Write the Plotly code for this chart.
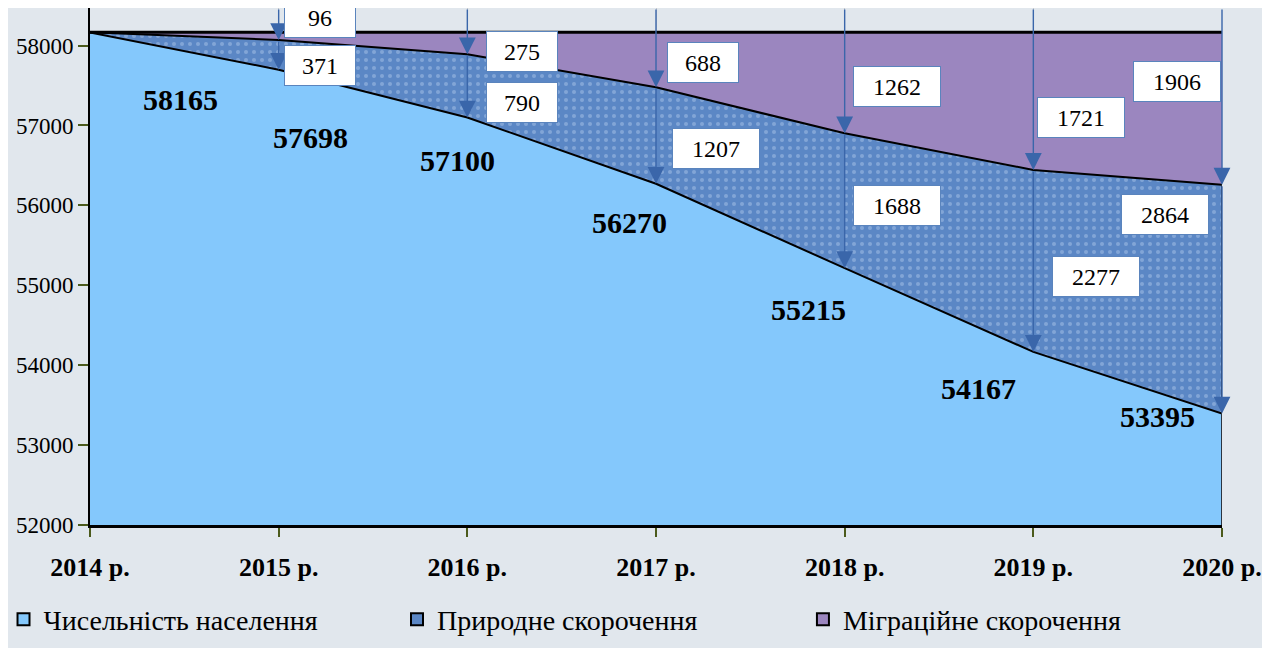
import plotly.graph_objects as go

years = [2014, 2015, 2016, 2017, 2018, 2019, 2020]
year_labels = ["2014 р.", "2015 р.", "2016 р.", "2017 р.", "2018 р.", "2019 р.", "2020 р."]
population = [58165, 57698, 57100, 56270, 55215, 54167, 53395]
natural_decrease = [0, 371, 790, 1207, 1688, 2277, 2864]
migration_decrease = [0, 96, 275, 688, 1262, 1721, 1906]

series_names = ["Чисельність населення", "Природне скорочення", "Міграційне скорочення"]

# where the value labels sit (x in years, y in axis units)
pop_label_pos = [(2014.48, 57330), (2015.17, 56850), (2015.95, 56560), (2016.86, 55790),
                 (2017.81, 54700), (2018.71, 53710), (2019.66, 53360)]
nat_label_pos = [None, (2015.22, 57750), (2016.29, 57290), (2017.32, 56710),
                 (2018.28, 56000), (2019.33, 55110), (2019.70, 55880)]
mig_label_pos = [None, (2015.22, 58350), (2016.29, 57925), (2017.25, 57790),
                 (2018.28, 57490), (2019.25, 57100), (2019.76, 57550)]
legend_x = [-0.0764, 0.2712, 0.6298]

Y_MIN, Y_MAX = 52000, 58470
FONT = "Liberation Serif, Tinos, Times New Roman, serif"
C_POP = "#84c8fc"
C_NAT = "#5b87c5"
C_MIG = "#9b86bf"
C_ARROW = "#3a66aa"
C_TICK = "#4b5a1c"

fig = go.Figure()

fig.add_trace(go.Scatter(
    x=years, y=population, stackgroup="s", mode="lines",
    line=dict(color="black", width=2), fillcolor=C_POP,
    name=series_names[0], showlegend=False,
))
fig.add_trace(go.Scatter(
    x=years, y=natural_decrease, stackgroup="s", mode="lines",
    line=dict(color="black", width=2), fillcolor=C_NAT,
    fillpattern=dict(shape=".", fgcolor="#a9c3e8", bgcolor=C_NAT, size=8, solidity=0.2),
    name=series_names[1], showlegend=False,
))
fig.add_trace(go.Scatter(
    x=years, y=migration_decrease, stackgroup="s", mode="lines",
    line=dict(color="black", width=3), fillcolor=C_MIG,
    name=series_names[2], showlegend=False,
))

# right edge of the filled block
mid = [p + n for p, n in zip(population, natural_decrease)]
fig.add_trace(go.Scatter(
    x=[years[-1], years[-1]], y=[Y_MIN, mid[-1]], mode="lines",
    line=dict(color="#2b3440", width=2), showlegend=False, hoverinfo="skip",
))

# legend entries, one legend each so they sit where the original has them
legend_ids = ["legend", "legend2", "legend3"]
for name, col, lid in zip(series_names, [C_POP, C_NAT, C_MIG], legend_ids):
    fig.add_trace(go.Scatter(
        x=[None], y=[None], mode="markers", name=name, legend=lid,
        marker=dict(symbol="square", size=20, color=col, line=dict(color="black", width=1)),
    ))

# arrows
for i in range(1, len(years)):
    fig.add_annotation(
        x=years[i], y=mid[i], ax=years[i], ay=Y_MAX, axref="x", ayref="y",
        showarrow=True, arrowhead=2, arrowsize=2.4, arrowwidth=1.4, arrowcolor=C_ARROW, text="",
    )
    fig.add_annotation(
        x=years[i], y=population[i], ax=years[i], ay=mid[i], axref="x", ayref="y",
        showarrow=True, arrowhead=2, arrowsize=2.4, arrowwidth=1.4, arrowcolor=C_ARROW, text="",
    )

# boxed labels
def box(pos, val):
    w = 68 if len(str(val)) < 4 else 84
    fig.add_annotation(
        x=pos[0], y=pos[1], text=str(val), showarrow=False,
        font=dict(family=FONT, size=24, color="black"),
        bgcolor="white", bordercolor="#5a84bd", borderwidth=1,
        width=w, height=37, align="center", valign="middle",
    )

for i in range(1, len(years)):
    box(mig_label_pos[i], migration_decrease[i])
    box(nat_label_pos[i], natural_decrease[i])

for pos, val in zip(pop_label_pos, population):
    fig.add_annotation(
        x=pos[0], y=pos[1], text=f"<b>{val}</b>", showarrow=False,
        font=dict(family=FONT, size=30, color="black"),
    )

legend_style = dict(
    orientation="h", xanchor="left", y=-0.183, yanchor="middle",
    font=dict(family=FONT, size=28, color="black"),
    itemsizing="constant", bgcolor="rgba(0,0,0,0)",
)

# the page puts the chart 8px in from the top-left corner, so the figure is 8px smaller
fig.update_layout(
    width=1262, height=640,
    margin=dict(l=82, r=48, t=0, b=123, autoexpand=False),
    paper_bgcolor="#e1e7ed",
    plot_bgcolor="rgba(0,0,0,0)",
    font=dict(family=FONT, color="black"),
    legend=dict(x=legend_x[0], **legend_style),
    legend2=dict(x=legend_x[1], **legend_style),
    legend3=dict(x=legend_x[2], **legend_style),
)
fig.update_xaxes(
    range=[years[0], years[-1]], tickvals=years, ticktext=[f"<b>{t}</b>" for t in year_labels],
    tickfont=dict(family=FONT, size=26, color="black"),
    showgrid=True, gridcolor="#c3c7cc", gridwidth=1,
    showline=True, linecolor="black", linewidth=3,
    ticks="outside", ticklen=9, tickwidth=2, tickcolor=C_TICK,
    ticklabelstandoff=8, zeroline=False,
)
fig.update_yaxes(
    range=[Y_MIN, Y_MAX], tickvals=list(range(52000, 58001, 1000)), tickformat="d",
    tickfont=dict(family=FONT, size=23, color="black"),
    showgrid=False, showline=True, linecolor="black", linewidth=2,
    ticks="outside", ticklen=10, tickwidth=2, tickcolor=C_TICK,
    zeroline=False,
)

fig.write_html("out.html")
